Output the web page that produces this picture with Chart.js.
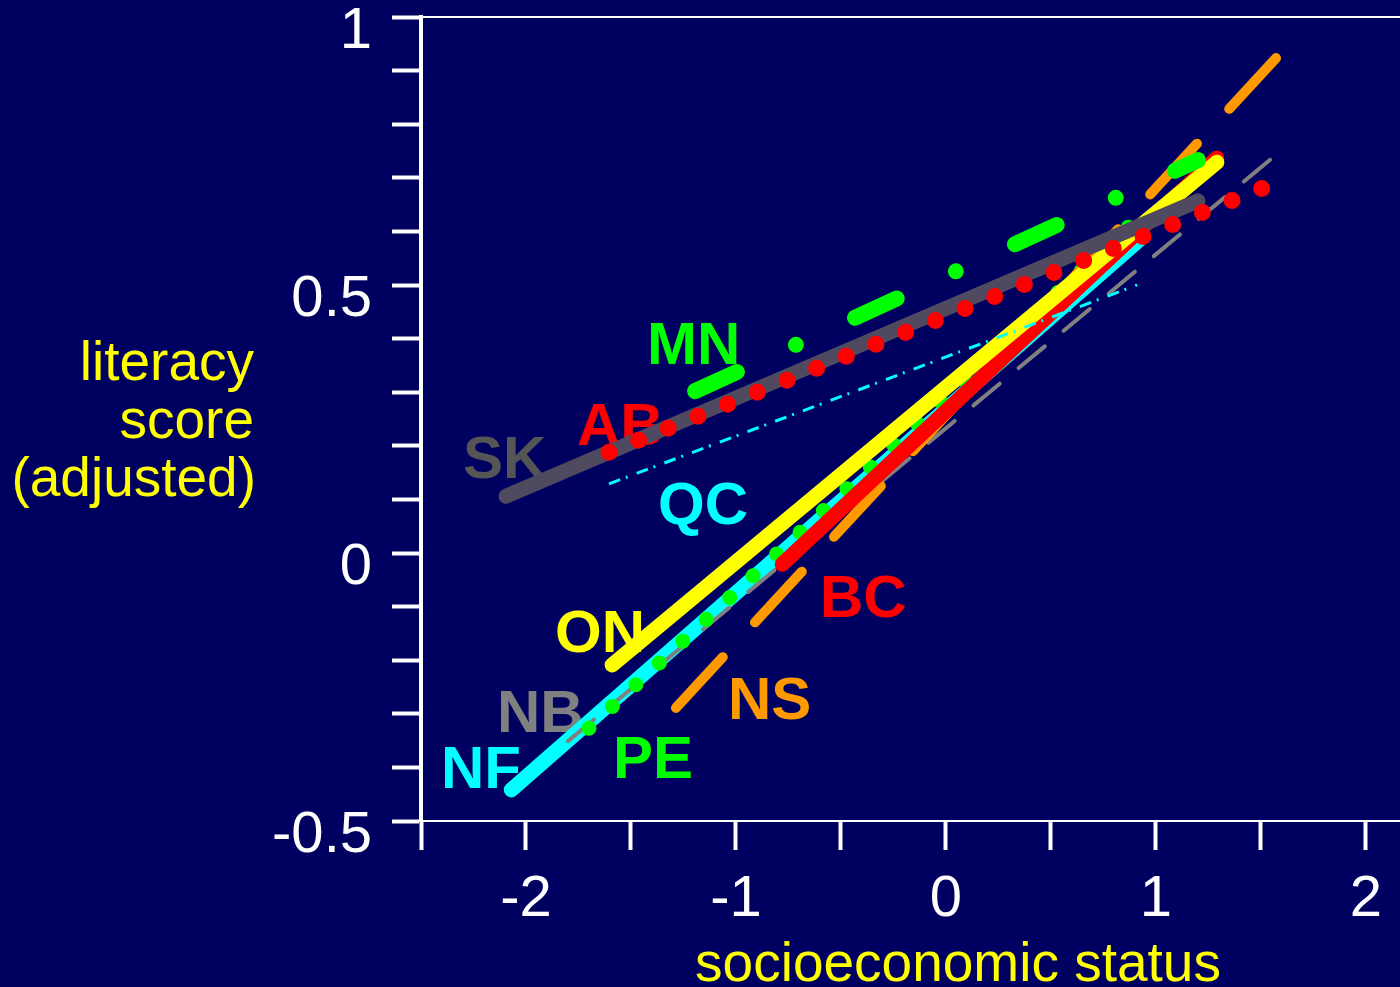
<!DOCTYPE html>
<html>
<head>
<meta charset="utf-8">
<title>Literacy score by socioeconomic status</title>
<script src="https://cdn.jsdelivr.net/npm/chart.js@4.4.1/dist/chart.umd.min.js"></script>
<style>
  html, body { margin: 0; padding: 0; background: #000060; }
  #wrap { width: 1400px; height: 987px; }
</style>
</head>
<body>
<div id="wrap"><canvas id="chart" width="1400" height="987"></canvas></div>
<script>
// Data: one fitted line per province (start and end of each segment)
const provinces = ['NF', 'PE', 'NB', 'ON', 'BC', 'NS', 'QC', 'AB', 'MN', 'SK'];
const sesStart   = [-2.07, -1.70, -1.80, -1.59, -0.78, -1.286, -1.605, -1.605, -1.195, -2.095];
const sesEnd     = [ 0.92,  0.97,  1.56,  1.29,  1.29,  1.585,  0.91,   1.51,   1.20,   1.20];
const scoreStart = [-0.442, -0.327, -0.351, -0.209, -0.021, -0.289, 0.129, 0.188, 0.302, 0.106];
const scoreEnd   = [ 0.584,  0.645,  0.739,  0.729,  0.737,  0.929, 0.50,  0.681, 0.733, 0.657];

// where each province name is written (data units, left edge / baseline)
const labelSes   = [-2.405, -1.586, -2.138, -1.862, -0.60, -1.038, -1.371, -1.757, -1.424, -2.30];
const labelScore = [-0.438, -0.420, -0.334, -0.185, -0.119, -0.310, 0.054, 0.2015, 0.3526, 0.140];

// Styles
const lineColors  = ['#00ffff', '#00ff00', '#808080', '#ffff00', '#ff0000', '#ff9900', '#00ffff', '#ff0000', '#00ff00', '#4f4a5f'];
const labelColors = ['#00ffff', '#00ff00', '#808080', '#ffff00', '#ff0000', '#ff9900', '#00ffff', '#ff0000', '#00ff00', '#555555'];
const lineWidths  = [15, 15, 4, 15, 15, 10, 3, 17, 16, 15];
const lineDashes  = [[], [0, 32], [34, 24.5], [], [], [69, 47.5], [12, 6, 2, 9.6], [0, 32], [46, 65, 0, 65], []];
const lineCaps    = ['round', 'round', 'round', 'round', 'round', 'round', 'butt', 'round', 'round', 'round'];
const drawOrder   = [9, 7, 8, 4, 5, 6, 3, 1, 0, 2]; // lower = on top

const FONT = '"Liberation Sans", Arial, Helvetica, sans-serif';

const datasets = provinces.map((p, i) => ({
    label: p,
    data: [{ x: sesStart[i], y: scoreStart[i] }, { x: sesEnd[i], y: scoreEnd[i] }],
    showLine: true,
    borderColor: lineColors[i],
    backgroundColor: lineColors[i],
    borderWidth: lineWidths[i],
    borderDash: lineDashes[i],
    borderCapStyle: lineCaps[i],
    pointRadius: 0,
    tension: 0,
    fill: false,
    order: drawOrder[i]
}));

const backgroundPlugin = {
    id: 'bg',
    beforeDraw(chart) {
        const ctx = chart.ctx;
        ctx.save();
        ctx.fillStyle = '#000060';
        ctx.fillRect(0, 0, chart.width, chart.height);
        ctx.restore();
    }
};

const provinceLabels = {
    id: 'provinceLabels',
    beforeDatasetsDraw(chart) {
        const { ctx, scales: { x, y } } = chart;
        ctx.save();
        ctx.font = 'bold 60px ' + FONT;
        ctx.textAlign = 'left';
        ctx.textBaseline = 'alphabetic';
        provinces.forEach((p, i) => {
            ctx.fillStyle = labelColors[i];
            ctx.fillText(p, x.getPixelForValue(labelSes[i]), y.getPixelForValue(labelScore[i]));
        });
        ctx.restore();
    }
};

const frameAndTitles = {
    id: 'frameAndTitles',
    afterDraw(chart) {
        const { ctx, chartArea } = chart;
        ctx.save();
        // top frame line
        ctx.strokeStyle = '#ffffff';
        ctx.lineWidth = 2;
        ctx.beginPath();
        ctx.moveTo(chartArea.left, chartArea.top);
        ctx.lineTo(chartArea.right, chartArea.top);
        ctx.stroke();

        ctx.fillStyle = '#ffff00';
        ctx.font = '55px ' + FONT;
        ctx.textBaseline = 'alphabetic';
        // y title, three right-aligned lines
        ctx.textAlign = 'right';
        ctx.fillText('literacy', 254, 380);
        ctx.fillText('score', 254, 438);
        ctx.fillText('(adjusted)', 256, 496);
        // x title
        ctx.textAlign = 'center';
        ctx.fillText('socioeconomic status', 958, 981);
        ctx.restore();
    }
};

new Chart(document.getElementById('chart'), {
    type: 'scatter',
    data: { datasets },
    options: {
        responsive: false,
        animation: false,
        events: [],
        layout: { padding: { top: 17, left: 0, right: 0, bottom: 0 } },
        plugins: {
            legend: { display: false },
            tooltip: { enabled: false }
        },
        scales: {
            x: {
                type: 'linear',
                position: 'bottom',
                min: -2.5,
                max: 2.162,
                ticks: {
                    stepSize: 0.5,
                    includeBounds: false,
                    autoSkip: false,
                    maxRotation: 0,
                    minRotation: 0,
                    padding: 21,
                    color: '#ffffff',
                    font: { family: FONT, size: 58, lineHeight: 1 },
                    callback: v => Number.isInteger(v) ? String(v) : ''
                },
                grid: {
                    drawOnChartArea: false,
                    drawTicks: true,
                    tickLength: 29,
                    tickWidth: 4,
                    tickColor: '#ffffff',
                    color: '#ffffff'
                },
                border: { display: true, color: '#ffffff', width: 2 },
                afterFit(scale) {
                    scale.height = 166;
                    scale.paddingLeft = 0;
                    scale.paddingRight = 0;
                }
            },
            y: {
                type: 'linear',
                position: 'left',
                min: -0.5,
                max: 1,
                ticks: {
                    stepSize: 0.1,
                    includeBounds: false,
                    autoSkip: false,
                    padding: 20,
                    labelOffset: 15,
                    color: '#ffffff',
                    font: { family: FONT, size: 58, lineHeight: 1 },
                    callback: v => {
                        const d = v * 2;
                        return Math.abs(d - Math.round(d)) < 1e-6 ? String(Math.round(d) / 2) : '';
                    }
                },
                grid: {
                    drawOnChartArea: false,
                    drawTicks: true,
                    tickLength: 29,
                    tickWidth: 4,
                    tickColor: '#ffffff',
                    color: '#ffffff'
                },
                border: { display: true, color: '#ffffff', width: 4 },
                afterFit(scale) {
                    scale.width = 421;
                    scale.paddingTop = 0;
                    scale.paddingBottom = 0;
                }
            }
        }
    },
    plugins: [backgroundPlugin, provinceLabels, frameAndTitles]
});
</script>
</body>
</html>
